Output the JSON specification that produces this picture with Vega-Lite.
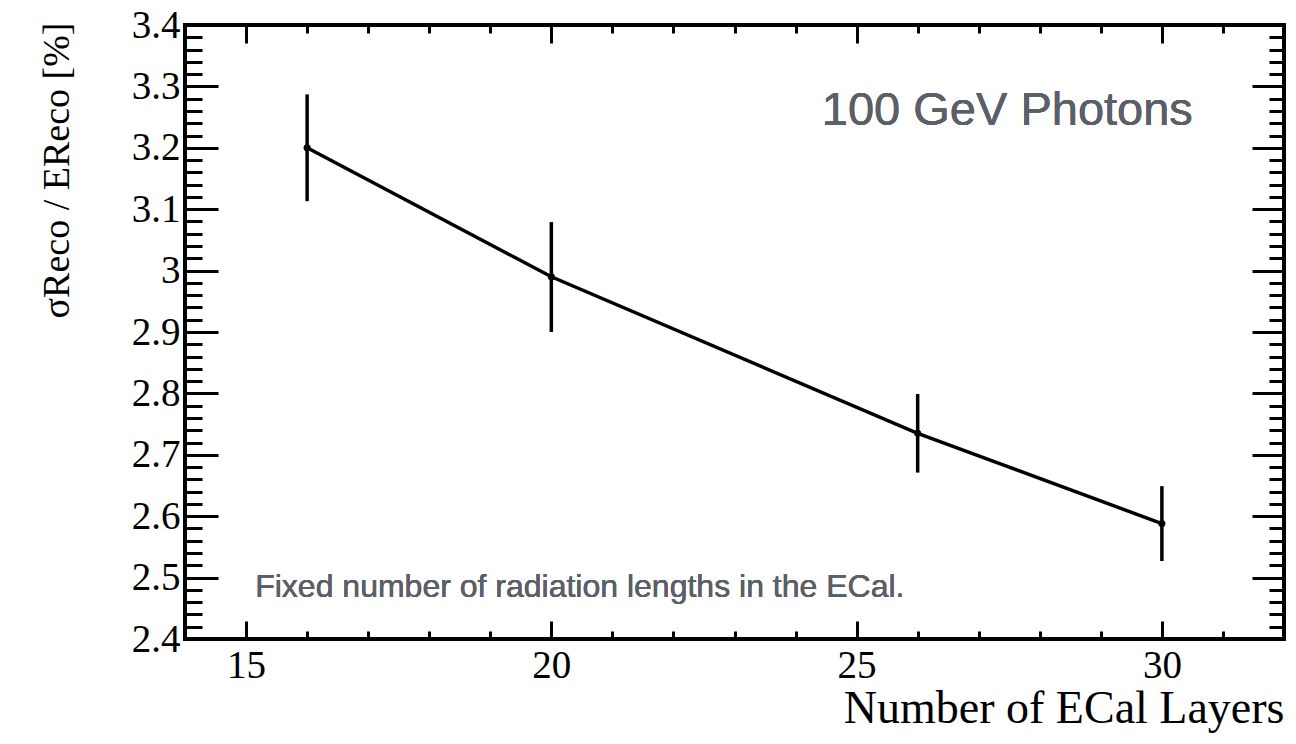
{
  "$schema": "https://vega.github.io/schema/vega-lite/v6.json",
  "width": 1099,
  "height": 614,
  "autosize": "none",
  "padding": {"left": 185, "top": 25, "right": 12, "bottom": 105},
  "background": "white",
  "view": {"stroke": "black", "strokeWidth": 4, "fill": "white"},
  "data": {
    "values": [
      {"layers": 16, "res": 3.2, "lo": 3.113, "hi": 3.287},
      {"layers": 20, "res": 2.99, "lo": 2.9, "hi": 3.079},
      {"layers": 26, "res": 2.735, "lo": 2.671, "hi": 2.799},
      {"layers": 30, "res": 2.588, "lo": 2.527, "hi": 2.649}
    ]
  },
  "resolve": {"axis": {"x": "independent", "y": "independent"}},
  "config": {
    "axis": {
      "domain": false,
      "grid": false,
      "tickColor": "black",
      "tickWidth": 3,
      "labelFont": "Liberation Serif",
      "labelFontSize": 39,
      "labelColor": "black",
      "titleFont": "Liberation Serif",
      "titleFontWeight": "normal",
      "titleColor": "black"
    }
  },
  "layer": [
    {
      "mark": {"type": "rule", "color": "black", "strokeWidth": 3.5},
      "encoding": {
        "x": {
          "field": "layers", "type": "quantitative",
          "scale": {"domain": [14, 32], "nice": false, "zero": false},
          "axis": {
            "orient": "bottom", "ticks": false, "values": [15, 20, 25, 30],
            "labelPadding": 7, "labelFlush": false,
            "title": "Number of ECal Layers", "titleFontSize": 46,
            "titleX": 1099, "titleY": 83, "titleAlign": "right", "titleBaseline": "alphabetic", "titleAngle": 0
          }
        },
        "y": {
          "field": "lo", "type": "quantitative",
          "scale": {"domain": [2.4, 3.4], "nice": false, "zero": false},
          "axis": {
            "orient": "left", "ticks": false,
            "values": [2.4, 2.5, 2.6, 2.7, 2.8, 2.9, 3, 3.1, 3.2, 3.3, 3.4],
            "format": "~g", "labelPadding": 5, "labelFlush": false,
            "title": "σReco / EReco [%]", "titleFontSize": 38,
            "titleX": -117, "titleY": -3, "titleAlign": "right", "titleBaseline": "alphabetic", "titleAngle": 270
          }
        },
        "y2": {"field": "hi"}
      }
    },
    {
      "mark": {"type": "line", "color": "black", "strokeWidth": 3.5},
      "encoding": {
        "x": {
          "field": "layers", "type": "quantitative",
          "axis": {"orient": "bottom", "labels": false, "title": null, "tickSize": -18, "values": [15, 20, 25, 30]}
        },
        "y": {
          "field": "res", "type": "quantitative",
          "axis": {"orient": "left", "labels": false, "title": null, "tickSize": -33,
                   "values": [2.4, 2.5, 2.6, 2.7, 2.8, 2.9, 3, 3.1, 3.2, 3.3, 3.4]}
        }
      }
    },
    {
      "mark": {"type": "point", "filled": true, "color": "black", "opacity": 1, "size": 50},
      "encoding": {
        "x": {
          "field": "layers", "type": "quantitative",
          "axis": {"orient": "bottom", "labels": false, "title": null, "tickSize": -8,
                   "values": [14, 16, 17, 18, 19, 21, 22, 23, 24, 26, 27, 28, 29, 31, 32]}
        },
        "y": {
          "field": "res", "type": "quantitative",
          "axis": {"orient": "left", "labels": false, "title": null, "tickSize": -17,
                   "values": [2.42, 2.44, 2.46, 2.48, 2.52, 2.54, 2.56, 2.58, 2.62, 2.64, 2.66, 2.68, 2.72, 2.74, 2.76, 2.78, 2.82, 2.84, 2.86, 2.88, 2.92, 2.94, 2.96, 2.98, 3.02, 3.04, 3.06, 3.08, 3.12, 3.14, 3.16, 3.18, 3.22, 3.24, 3.26, 3.28, 3.32, 3.34, 3.36, 3.38]}
        }
      }
    },
    {
      "mark": {"type": "text", "text": "100 GeV Photons", "font": "Liberation Sans", "fontSize": 47, "color": "#5b6068", "align": "left", "baseline": "alphabetic"},
      "encoding": {
        "x": {
          "datum": 24.43, "type": "quantitative",
          "axis": {"orient": "top", "labels": false, "title": null, "tickSize": -18, "values": [15, 20, 25, 30]}
        },
        "y": {
          "datum": 3.237, "type": "quantitative",
          "axis": {"orient": "right", "labels": false, "title": null, "tickSize": -32,
                   "values": [2.4, 2.5, 2.6, 2.7, 2.8, 2.9, 3, 3.1, 3.2, 3.3, 3.4]}
        }
      }
    },
    {
      "mark": {"type": "text", "text": "Fixed number of radiation lengths in the ECal.", "font": "Liberation Sans", "fontSize": 32, "color": "#5b6068", "align": "left", "baseline": "alphabetic"},
      "encoding": {
        "x": {
          "datum": 15.15, "type": "quantitative",
          "axis": {"orient": "top", "labels": false, "title": null, "tickSize": -8,
                   "values": [14, 16, 17, 18, 19, 21, 22, 23, 24, 26, 27, 28, 29, 31, 32]}
        },
        "y": {
          "datum": 2.468, "type": "quantitative",
          "axis": {"orient": "right", "labels": false, "title": null, "tickSize": -15,
                   "values": [2.42, 2.44, 2.46, 2.48, 2.52, 2.54, 2.56, 2.58, 2.62, 2.64, 2.66, 2.68, 2.72, 2.74, 2.76, 2.78, 2.82, 2.84, 2.86, 2.88, 2.92, 2.94, 2.96, 2.98, 3.02, 3.04, 3.06, 3.08, 3.12, 3.14, 3.16, 3.18, 3.22, 3.24, 3.26, 3.28, 3.32, 3.34, 3.36, 3.38]}
        }
      }
    }
  ]
}
